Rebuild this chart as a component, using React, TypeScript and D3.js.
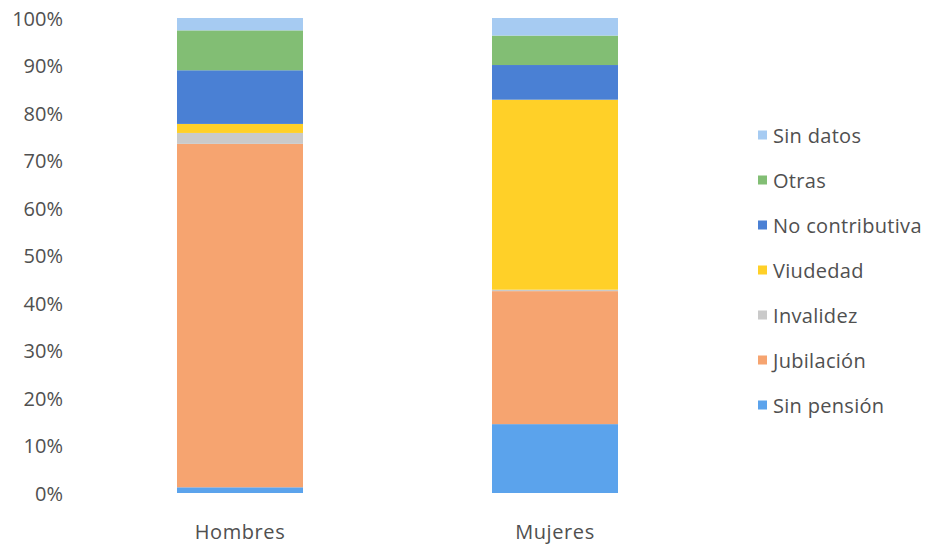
import React from "react";
import * as d3 from "d3";

// Population groups along the x axis
const categories = ["Hombres", "Mujeres"];

// Share of each pension type per group (percent), stacked bottom to top
const seriesNames = [
  "Sin pensión",
  "Jubilación",
  "Invalidez",
  "Viudedad",
  "No contributiva",
  "Otras",
  "Sin datos",
];
const sinPension = [1.2, 14.5];
const jubilacion = [72.3, 28.0];
const invalidez = [2.3, 0.3];
const viudedad = [1.9, 40.0];
const noContributiva = [11.3, 7.3];
const otras = [8.4, 6.2];
const sinDatos = [2.6, 3.7];

const yTicks = [0, 10, 20, 30, 40, 50, 60, 70, 80, 90, 100];

const colors: Record<string, string> = {
  "Sin pensión": "#5ba3ec",
  "Jubilación": "#f6a470",
  "Invalidez": "#cacaca",
  "Viudedad": "#ffd028",
  "No contributiva": "#4a80d4",
  "Otras": "#82be74",
  "Sin datos": "#a6cbf2",
};

const W = 931;
const H = 546;
const FONT = "'Open Sans', 'Noto Sans', sans-serif";
const TEXT = "#505050";

export default function App() {
  const values: Record<string, number[]> = {
    "Sin pensión": sinPension,
    "Jubilación": jubilacion,
    "Invalidez": invalidez,
    "Viudedad": viudedad,
    "No contributiva": noContributiva,
    "Otras": otras,
    "Sin datos": sinDatos,
  };

  const rows = categories.map((c, i) => {
    const r: Record<string, number | string> = { cat: c };
    seriesNames.forEach((s) => (r[s] = values[s][i]));
    return r;
  });

  const stacked = d3
    .stack<Record<string, number | string>>()
    .keys(seriesNames)
    .value((d, k) => d[k] as number)(rows);

  const x = d3
    .scaleBand<string>()
    .domain(categories)
    .range([19.5, 775.5])
    .paddingInner(0.6)
    .paddingOuter(0.5);

  const y = d3.scaleLinear().domain([0, 100]).range([493, 18]);

  // Legend lists series top-down, reversed from stacking order
  const legendItems = [...seriesNames].reverse();
  const legendY = d3
    .scalePoint<string>()
    .domain(legendItems)
    .range([135, 405]);

  return (
    <svg
      width={W}
      height={H}
      style={{ position: "absolute", left: 0, top: 0, background: "#fff" }}
      fontFamily={FONT}
    >
      <rect width={W} height={H} fill="#ffffff" />

      {/* y axis labels */}
      {yTicks.map((t) => (
        <text
          key={t}
          x={63}
          y={y(t)}
          textAnchor="end"
          dominantBaseline="central"
          fontSize={20}
          fill={TEXT}
        >
          {t}%
        </text>
      ))}

      {/* stacked bars */}
      {stacked.map((layer) => (
        <g key={layer.key} fill={colors[layer.key]}>
          {layer.map((seg, i) => (
            <rect
              key={i}
              x={x(categories[i])}
              width={x.bandwidth()}
              y={y(seg[1])}
              height={Math.max(0, y(seg[0]) - y(seg[1]))}
            />
          ))}
        </g>
      ))}

      {/* category labels */}
      {categories.map((c) => (
        <text
          key={c}
          x={(x(c) as number) + x.bandwidth() / 2}
          y={531}
          textAnchor="middle"
          dominantBaseline="central"
          fontSize={20}
          letterSpacing={0.6}
          fill={TEXT}
        >
          {c}
        </text>
      ))}

      {/* legend */}
      {legendItems.map((s) => (
        <g key={s} transform={`translate(758, ${legendY(s)})`}>
          <rect x={0} y={-4.5} width={9} height={9} fill={colors[s]} />
          <text
            x={15}
            y={0}
            dominantBaseline="central"
            fontSize={20}
            letterSpacing={0.3}
            fill={TEXT}
          >
            {s}
          </text>
        </g>
      ))}
    </svg>
  );
}
